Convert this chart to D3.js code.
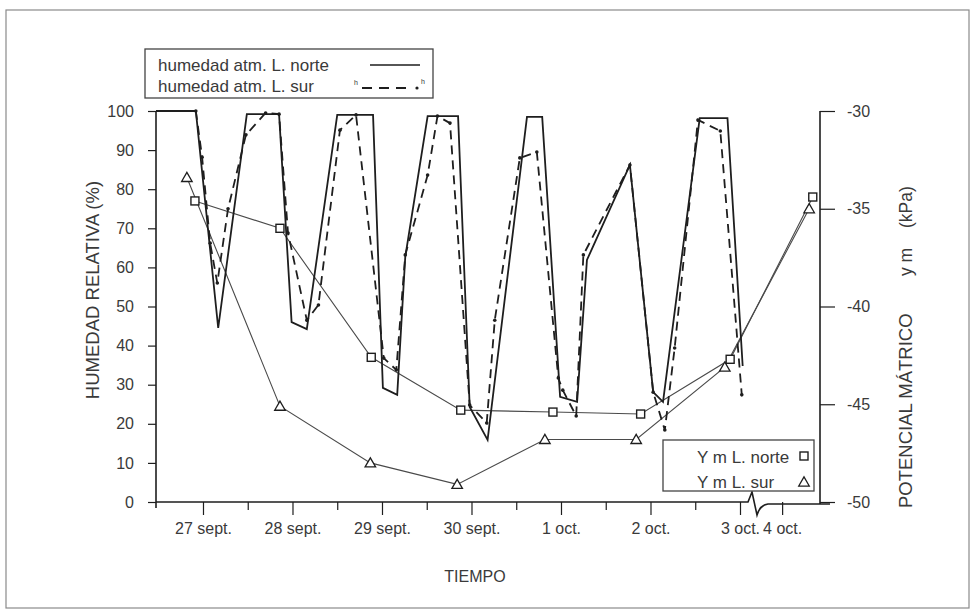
<!DOCTYPE html>
<html><head><meta charset="utf-8">
<script src="https://cdn.jsdelivr.net/npm/d3@7"></script>
<style>
html,body{margin:0;padding:0;background:#fff;}
svg text{font-family:"Liberation Sans",Arial,Helvetica,sans-serif;fill:#3a3a3a;}
</style></head>
<body>
<svg id="chart" width="974" height="615"></svg>
<script>
// ---- DATA (time in days; 0 = 27 sept.) ----
const dayLabels = ["27 sept.","28 sept.","29 sept.","30 sept.","1 oct.","2 oct.","3 oct.","4 oct."];
const dayTicks = [0,1,2,3,4,5,6,7];
const minorTicks = [0.5,1.5,2.5,3.5,4.5,5.5];
const hrTicks = [0,10,20,30,40,50,60,70,80,90,100];
const psiTicks = [-50,-45,-40,-35,-30];

// humedad atm. L. norte (solid)
const norteT  = [-0.525,-0.08,0.17,0.49,0.85,0.99,1.16,1.50,1.90,2.01,2.17,2.26,2.51,2.85,2.98,3.18,3.62,3.79,3.99,4.18,4.29,4.77,5.03,5.14,5.55,5.86,6.03];
const norteHR = [100,100,44.5,99.2,99.2,46,44.2,99,99,29.2,27.4,62.7,98.7,98.7,24.3,15.9,98.5,98.5,26.9,25.6,61.9,86.2,28.1,25.6,98.2,98.2,34.8];
// humedad atm. L. sur (dashed)
const surT  = [-0.08,-0.01,0.08,0.16,0.28,0.48,0.70,0.85,0.95,1.16,1.29,1.53,1.71,2.02,2.16,2.26,2.51,2.62,2.76,2.98,3.17,3.26,3.54,3.73,3.97,4.02,4.17,4.25,4.77,5.03,5.16,5.27,5.53,5.78,6.02];
const surHR = [100,88.2,66.2,56,75,93.9,99.5,99.2,68.8,46.5,50.4,95.1,99,36.8,33.8,63.2,83.6,98.7,96.9,24.8,20.2,46.5,88,89.5,31.7,28.6,22,63.2,86.2,28.1,18.4,39.4,97.7,94.9,27.4];
// potencial matrico (kPa)
const psiNorteT = [-0.09,0.86,1.88,2.88,3.91,4.89,5.89,7.34];
const psiNorte  = [-34.6,-36.0,-42.6,-45.3,-45.4,-45.5,-42.7,-34.4];
const psiSurT   = [-0.18,0.86,1.87,2.84,3.82,4.84,5.83,7.30];
const psiSur    = [-33.4,-45.1,-48.0,-49.1,-46.8,-46.8,-43.1,-35.0];

// ---- LAYOUT ----
const svg = d3.select("#chart");
const L = 156, R = 820, T = 111, B = 502;
const x = d3.scaleLinear().domain([-0.525, 6.19, 6.81, 7.62]).range([L, 757, 765, 838]);
const yL = d3.scaleLinear().domain([0,100]).range([B,T]);
const yR = d3.scaleLinear().domain([-50,-30]).range([B,T]);
const ink = "#1e1e1e", grey = "#4a4a4a";

// outer frame
svg.append("rect").attr("x",6).attr("y",10).attr("width",963).attr("height",598)
  .attr("fill","none").attr("stroke","#8a8a8a").attr("stroke-width",1.2);

// left axis
const gl = svg.append("g").attr("transform",`translate(${L},0)`)
  .call(d3.axisLeft(yL).tickValues(hrTicks).tickSize(8).tickPadding(14));
gl.select(".domain").remove();
gl.selectAll(".tick line").attr("stroke",ink).attr("stroke-width",1.2);
gl.selectAll(".tick text").style("font-size","16px").attr("fill","#3a3a3a");
svg.append("line").attr("x1",L).attr("x2",L).attr("y1",T).attr("y2",B+6).attr("stroke",ink).attr("stroke-width",1.6);

// right axis
const gr = svg.append("g").attr("transform",`translate(${R},0)`)
  .call(d3.axisRight(yR).tickValues(psiTicks).tickSize(15).tickPadding(12).tickFormat(d=>String(d)));
gr.select(".domain").remove();
gr.selectAll(".tick line").attr("stroke",ink).attr("stroke-width",1.2);
gr.selectAll(".tick text").style("font-size","16px").attr("fill","#3a3a3a");
svg.append("line").attr("x1",R).attr("x2",R).attr("y1",T).attr("y2",B+2).attr("stroke",ink).attr("stroke-width",1.6);

// bottom axis: major + minor ticks
const gx = svg.append("g").attr("transform",`translate(0,${B})`)
  .call(d3.axisBottom(x).tickValues(dayTicks).tickSize(13).tickPadding(8).tickFormat((d,i)=>dayLabels[i]));
gx.select(".domain").remove();
gx.selectAll(".tick line").attr("stroke",ink).attr("stroke-width",1.2);
gx.selectAll(".tick text").style("font-size","16px").attr("fill","#3a3a3a");
const gm = svg.append("g").attr("transform",`translate(0,${B})`)
  .call(d3.axisBottom(x).tickValues(minorTicks).tickSize(8).tickFormat(""));
gm.select(".domain").remove();
gm.selectAll(".tick line").attr("stroke",ink).attr("stroke-width",1.2);
// axis line with break
svg.append("path").attr("d",`M${L},${B} H748 L752,492 L757,515 Q760,505 768,504 H830`)
  .attr("fill","none").attr("stroke",ink).attr("stroke-width",1.6);

// axis titles
svg.append("text").attr("transform","translate(99,290) rotate(-90)").attr("text-anchor","middle")
  .style("font-size","18.5px").text("HUMEDAD RELATIVA (%)");
svg.append("text").attr("transform","translate(912,508) rotate(-90)").style("font-size","18.5px").text("POTENCIAL MÁTRICO");
svg.append("text").attr("transform","translate(912,276) rotate(-90)").style("font-size","17.5px").text("y m");
svg.append("text").attr("transform","translate(912,228) rotate(-90)").style("font-size","17.5px").text("(kPa)");
svg.append("text").attr("x",475).attr("y",582).attr("text-anchor","middle").style("font-size","16px").text("TIEMPO");

// psi lines
const lineR = (ts,vs)=>d3.line().x((d,i)=>x(ts[i])).y(d=>yR(d))(vs);
svg.append("path").attr("d",lineR(psiNorteT,psiNorte)).attr("fill","none").attr("stroke",grey).attr("stroke-width",1.1);
svg.append("path").attr("d",lineR(psiSurT,psiSur)).attr("fill","none").attr("stroke",grey).attr("stroke-width",1.1);

// humidity lines
const lineL = (ts,vs)=>d3.line().x((d,i)=>x(ts[i])).y(d=>yL(d))(vs);
svg.append("path").attr("d",lineL(norteT,norteHR)).attr("fill","none").attr("stroke",ink).attr("stroke-width",1.8).attr("stroke-linejoin","miter");
svg.append("path").attr("d",lineL(surT,surHR)).attr("fill","none").attr("stroke",ink).attr("stroke-width",1.8).attr("stroke-dasharray","9,6");
svg.selectAll("circle.sd").data(surHR).enter().append("circle").attr("class","sd")
  .attr("cx",(d,i)=>x(surT[i])).attr("cy",d=>yL(d)).attr("r",1.8).attr("fill",ink);

// markers
const sq = 8;
svg.selectAll("rect.pn").data(psiNorte).enter().append("rect").attr("class","pn")
  .attr("x",(d,i)=>x(psiNorteT[i])-sq/2).attr("y",d=>yR(d)-sq/2).attr("width",sq).attr("height",sq)
  .attr("fill","#fff").attr("stroke",ink).attr("stroke-width",1.4);
const tri = d3.symbol().type(d3.symbolTriangle).size(48);
svg.selectAll("path.ps").data(psiSur).enter().append("path").attr("class","ps")
  .attr("d",tri).attr("transform",(d,i)=>`translate(${x(psiSurT[i])},${yR(d)+1})`)
  .attr("fill","#fff").attr("stroke",ink).attr("stroke-width",1.3);

// legend 1
svg.append("rect").attr("x",145).attr("y",49).attr("width",288).attr("height",49)
  .attr("fill","#fff").attr("stroke","#444").attr("stroke-width",1.3);
svg.append("text").attr("x",158).attr("y",71).style("font-size","17px").text("humedad atm. L. norte");
svg.append("text").attr("x",158).attr("y",92).style("font-size","17px").text("humedad atm. L. sur");
svg.append("line").attr("x1",370).attr("x2",420).attr("y1",65).attr("y2",65).attr("stroke",ink).attr("stroke-width",1.5);
svg.append("line").attr("x1",362).attr("x2",410).attr("y1",88).attr("y2",88).attr("stroke",ink).attr("stroke-width",2).attr("stroke-dasharray","10,7");
svg.append("circle").attr("cx",417).attr("cy",88).attr("r",1.6).attr("fill",ink);
svg.append("text").attr("x",354).attr("y",85).style("font-size","7px").style("fill","#333").text("h");
svg.append("text").attr("x",421).attr("y",84).style("font-size","7px").style("fill","#333").text("h");

// legend 2
svg.append("rect").attr("x",663).attr("y",440).attr("width",151).attr("height",51)
  .attr("fill","#fff").attr("stroke","#444").attr("stroke-width",1.3);
svg.append("text").attr("x",697).attr("y",463).style("font-size","17px").text("Y m L. norte");
svg.append("text").attr("x",697).attr("y",488).style("font-size","17px").text("Y m L. sur");
svg.append("rect").attr("x",800).attr("y",452).attr("width",8).attr("height",8)
  .attr("fill","#fff").attr("stroke",ink).attr("stroke-width",1.4);
svg.append("path").attr("d",tri).attr("transform","translate(804,483)")
  .attr("fill","#fff").attr("stroke",ink).attr("stroke-width",1.3);
</script>
</body></html>
